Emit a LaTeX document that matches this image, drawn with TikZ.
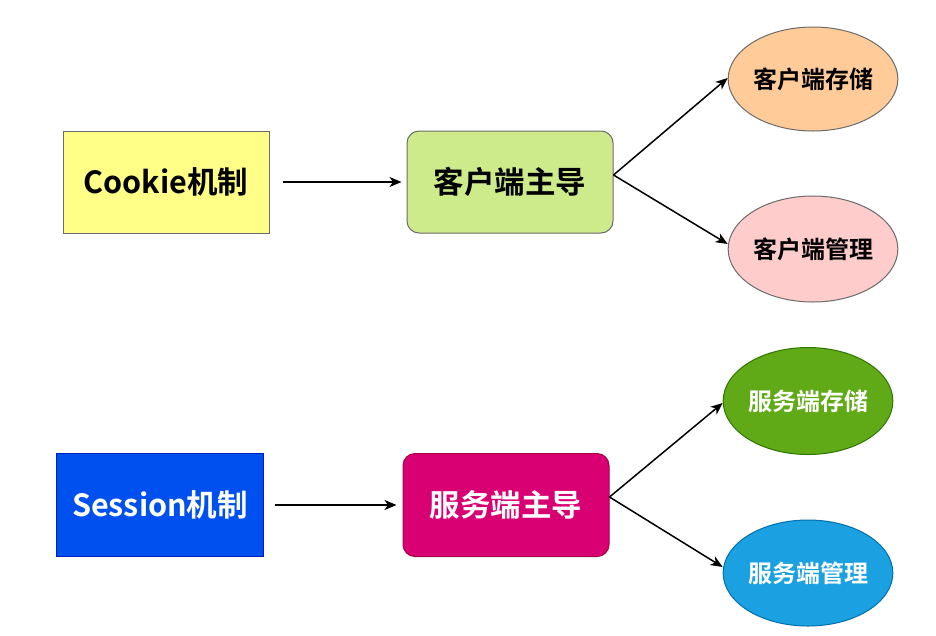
\documentclass[tikz,border=0pt]{standalone}
\usepackage{fontspec}
\setmainfont{Noto Sans CJK SC}[BoldFont={* Bold}]
\usetikzlibrary{shapes.geometric,arrows.meta}
\definecolor{yfill}{HTML}{FFFF88}
\definecolor{gfill}{HTML}{CDEB8B}
\definecolor{ofill}{HTML}{FFCC99}
\definecolor{pfill}{HTML}{FFCCCC}
\definecolor{bfill}{HTML}{0050EF}
\definecolor{bdraw}{HTML}{001DBC}
\definecolor{mfill}{HTML}{D80073}
\definecolor{mdraw}{HTML}{A50040}
\definecolor{sgfill}{HTML}{60A917}
\definecolor{sgdraw}{HTML}{2D7600}
\definecolor{lbfill}{HTML}{1BA1E2}
\definecolor{lbdraw}{HTML}{006EAF}
\definecolor{gdraw}{HTML}{6B6B6B}
\tikzset{
  box/.style={rectangle, draw=gdraw, line width=1pt, minimum width=206pt, minimum height=102pt, inner sep=0pt, font=\bfseries\fontsize{30.5}{36}\selectfont},
  rbox/.style={box, rounded corners=12pt},
  oval/.style={ellipse, draw=gdraw, line width=1pt, minimum width=167pt, minimum height=104pt, inner sep=0pt, font=\bfseries\fontsize{24}{28}\selectfont},
  arr/.style={draw=black, line width=1.5pt, -{Stealth[length=12pt,width=10pt,inset=3.5pt]}}
}
\begin{document}
\begin{tikzpicture}[x=1pt,y=-1pt]
\useasboundingbox[fill=white] (0,0) rectangle (936,635);
% top row
\node[box, fill=yfill] (cookie) at (166,182) {Cookie机制};
\node[rbox, fill=gfill] (cd) at (510,182) {客户端主导};
\node[oval, fill=ofill] (cs) at (813,79) {客户端存储};
\node[oval, fill=pfill, minimum height=106pt] (cm) at (813,249) {客户端管理};
% bottom row
\node[box, fill=bfill, draw=bdraw, text=white, minimum width=207pt, minimum height=103pt] (session) at (160,505) {Session机制};
\node[rbox, fill=mfill, draw=mdraw, text=white, minimum height=103pt] (sd) at (506,505) {服务端主导};
\node[oval, fill=sgfill, draw=sgdraw, text=white, minimum height=107pt] (ss) at (808,401) {服务端存储};
\node[oval, fill=lbfill, draw=lbdraw, text=white, minimum height=106pt] (sm) at (808,573) {服务端管理};
% connectors
\draw[arr] ([xshift=13pt]cookie.east) -- ([xshift=-5pt]cd.west);
\draw[arr] ([yshift=7pt]cd.east) -- ([yshift=1pt]cs.west);
\draw[arr] ([yshift=7pt]cd.east) -- ([yshift=5pt]cm.west);
\draw[arr] ([xshift=11pt]session.east) -- ([xshift=-6pt]sd.west);
\draw[arr] ([yshift=8pt]sd.east) -- ([yshift=-2pt]ss.west);
\draw[arr] ([yshift=8pt]sd.east) -- ([yshift=6pt]sm.west);
\end{tikzpicture}
\end{document}
